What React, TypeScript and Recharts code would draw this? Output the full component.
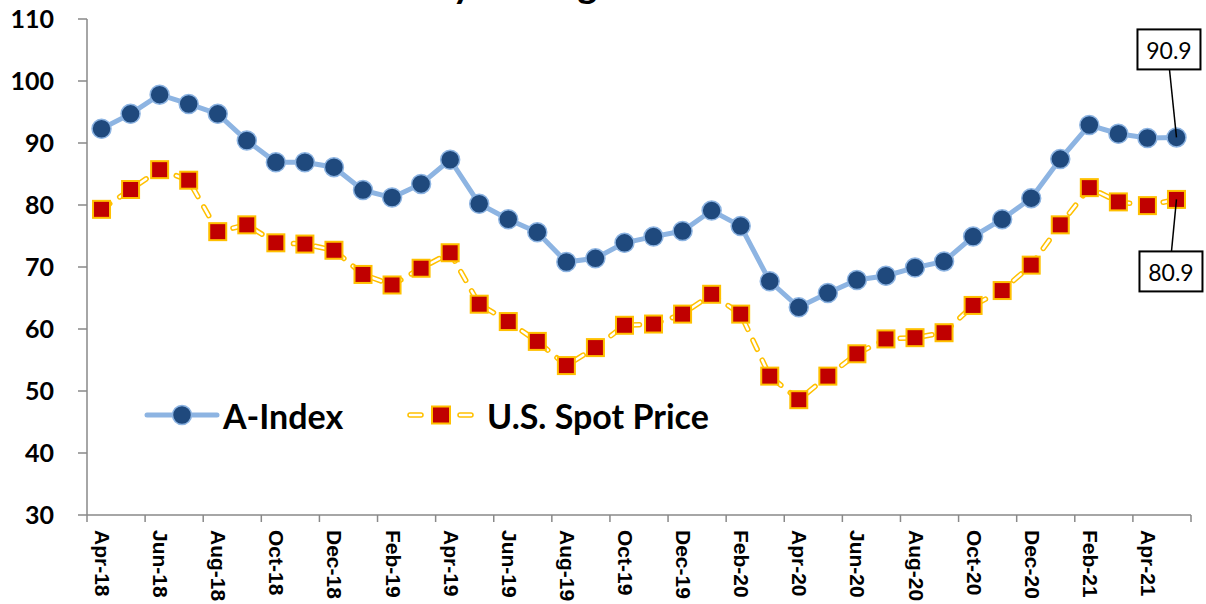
import { LineChart, Line, XAxis, YAxis, Legend } from "recharts";

const months = [
  "Apr-18", "May-18", "Jun-18", "Jul-18", "Aug-18", "Sep-18", "Oct-18", "Nov-18", "Dec-18", "Jan-19",
  "Feb-19", "Mar-19", "Apr-19", "May-19", "Jun-19", "Jul-19", "Aug-19", "Sep-19", "Oct-19", "Nov-19",
  "Dec-19", "Jan-20", "Feb-20", "Mar-20", "Apr-20", "May-20", "Jun-20", "Jul-20", "Aug-20", "Sep-20",
  "Oct-20", "Nov-20", "Dec-20", "Jan-21", "Feb-21", "Mar-21", "Apr-21", "May-21",
];

const aIndex = [
  92.3, 94.7, 97.8, 96.3, 94.7, 90.4, 86.9, 86.9, 86.1, 82.4,
  81.2, 83.4, 87.3, 80.2, 77.7, 75.6, 70.8, 71.4, 73.9, 74.9,
  75.8, 79.1, 76.6, 67.7, 63.5, 65.8, 67.9, 68.6, 69.9, 70.9,
  74.9, 77.7, 81.1, 87.4, 92.9, 91.5, 90.8, 90.9,
];

const spotPrice = [
  79.3, 82.5, 85.7, 84.0, 75.7, 76.8, 73.9, 73.7, 72.7, 68.8,
  67.1, 69.8, 72.3, 64.0, 61.2, 58.0, 54.1, 57.0, 60.6, 60.8,
  62.4, 65.6, 62.4, 52.4, 48.6, 52.4, 56.0, 58.4, 58.6, 59.4,
  63.8, 66.2, 70.3, 76.8, 82.8, 80.5, 79.9, 80.9,
];

const yTicks = [30, 40, 50, 60, 70, 80, 90, 100, 110];

const data = months.map((month, i) => ({
  month,
  aIndex: aIndex[i],
  spot: spotPrice[i],
}));

const WIDTH = 1206;
const HEIGHT = 604;
const Y_AXIS_W = 87;
const RIGHT = 15;
const PLOT_W = WIDTH - Y_AXIS_W - RIGHT;
const BAND = PLOT_W / months.length;
const LAST = months.length - 1;

const AXIS = "#898989";
const BLUE_LINE = "#8DB4E2";
const BLUE_DOT = "#1F497D";
const YELLOW = "#FFC000";
const RED = "#C00000";
const DASH = "10 12";

function MonthTick(props: any) {
  const { x, y, payload } = props;
  const i = months.indexOf(payload.value);
  const left = x - BAND / 2;
  return (
    <g>
      <line x1={left} x2={left} y1={y} y2={y + 7} stroke={AXIS} strokeWidth={1.5} />
      {i === LAST - 1 && (
        <line
          x1={x + BAND * 1.5}
          x2={x + BAND * 1.5}
          y1={y}
          y2={y + 7}
          stroke={AXIS}
          strokeWidth={1.5}
        />
      )}
      <text
        transform={`translate(${x + 1},${y + 15}) rotate(90)`}
        textAnchor="start"
        dominantBaseline="central"
        fontFamily="'Liberation Sans', Arial, sans-serif"
        fontWeight={700}
        fontSize={21}
        fill="#000"
      >
        {payload.value}
      </text>
    </g>
  );
}

function CircleDot(props: any) {
  const { cx, cy } = props;
  if (cx == null || cy == null) return null;
  return <circle cx={cx} cy={cy} r={9.5} fill={BLUE_DOT} stroke={BLUE_LINE} strokeWidth={1.5} />;
}

function SquareDot(props: any) {
  const { cx, cy } = props;
  if (cx == null || cy == null) return null;
  return (
    <rect x={cx - 8.5} y={cy - 8.5} width={17} height={17} fill={RED} stroke={YELLOW} strokeWidth={2} />
  );
}

function Callout({ bx, by, lx, ly, px, py, text }: any) {
  return (
    <g>
      <line x1={lx} y1={ly} x2={px} y2={py} stroke="#000" strokeWidth={1.5} />
      <rect x={bx} y={by} width={63} height={40} fill="#fff" stroke="#000" strokeWidth={2} />
      <text
        x={bx + 31.5}
        y={by + 21}
        textAnchor="middle"
        dominantBaseline="central"
        fontFamily="Lato, sans-serif"
        fontSize={23}
        fill="#000"
      >
        {text}
      </text>
    </g>
  );
}

function AIndexLabel(props: any) {
  const { x, y, index, value } = props;
  if (index !== LAST) return null;
  return <Callout bx={x - 39} by={y - 108} lx={x - 7} ly={y - 68} px={x} py={y} text={value.toFixed(1)} />;
}

function SpotLabel(props: any) {
  const { x, y, index, value } = props;
  if (index !== LAST) return null;
  return <Callout bx={x - 37} by={y + 52} lx={x - 5} ly={y + 52} px={x} py={y} text={value.toFixed(1)} />;
}

function ChartLegend() {
  const font = { fontFamily: "Lato, sans-serif", fontWeight: 700, fontSize: 34 };
  return (
    <svg width={600} height={44} style={{ display: "block" }}>
      <line x1={11} x2={81} y1={22} y2={22} stroke={BLUE_LINE} strokeWidth={5} strokeLinecap="round" />
      <circle cx={46} cy={22} r={9.5} fill={BLUE_DOT} stroke={BLUE_LINE} strokeWidth={1.5} />
      <text x={87} y={22} dominantBaseline="central" {...font}>
        A-Index
      </text>
      <line x1={274} x2={285} y1={22} y2={22} stroke={YELLOW} strokeWidth={5.5} strokeLinecap="round" />
      <line x1={274} x2={285} y1={22} y2={22} stroke="#fff" strokeWidth={2.5} strokeLinecap="round" />
      <line x1={324} x2={335} y1={22} y2={22} stroke={YELLOW} strokeWidth={5.5} strokeLinecap="round" />
      <line x1={324} x2={335} y1={22} y2={22} stroke="#fff" strokeWidth={2.5} strokeLinecap="round" />
      <rect x={296} y={13.5} width={18} height={17} fill={RED} stroke={YELLOW} strokeWidth={2} />
      <text x={351} y={22} dominantBaseline="central" {...font}>
        U.S. Spot Price
      </text>
    </svg>
  );
}

export default function App() {
  return (
    <div style={{ position: "absolute", left: 0, top: 0, width: WIDTH, height: HEIGHT, background: "#fff" }}>
      <svg width={WIDTH} height={20} style={{ position: "absolute", left: 0, top: 0 }}>
        <text x={329} y={-2} fontFamily="Lato, sans-serif" fontWeight={700} fontSize={38} fill="#000">
          Monthly Average Prices
        </text>
      </svg>
      <LineChart
        width={WIDTH}
        height={HEIGHT}
        data={data}
        margin={{ top: 19, right: RIGHT, bottom: 0, left: 0 }}
      >
        <XAxis
          dataKey="month"
          interval={1}
          padding={{ left: BAND / 2, right: BAND / 2 }}
          height={89}
          tickLine={false}
          tickSize={0}
          tickMargin={0}
          axisLine={{ stroke: AXIS, strokeWidth: 1.5 }}
          tick={<MonthTick />}
        />
        <YAxis
          domain={[30, 110]}
          ticks={yTicks}
          width={Y_AXIS_W}
          tickSize={9}
          tickMargin={24}
          axisLine={{ stroke: AXIS, strokeWidth: 1.5 }}
          tickLine={{ stroke: AXIS, strokeWidth: 1.5 }}
          tick={{ fill: "#000", fontSize: 25, fontWeight: 700, fontFamily: "Lato, sans-serif" }}
        />
        <Legend
          layout="vertical"
          verticalAlign="middle"
          align="center"
          wrapperStyle={{ position: "absolute", left: 136, top: 393, width: 600, height: 44 }}
          content={() => <ChartLegend />}
        />
        <Line
          type="linear"
          dataKey="aIndex"
          stroke={BLUE_LINE}
          strokeWidth={5}
          dot={<CircleDot />}
          activeDot={false}
          isAnimationActive={false}
          label={<AIndexLabel />}
        />
        <Line
          type="linear"
          dataKey="spot"
          stroke={YELLOW}
          strokeWidth={5.5}
          strokeDasharray={DASH}
          strokeLinecap="round"
          dot={false}
          activeDot={false}
          isAnimationActive={false}
          legendType="none"
        />
        <Line
          type="linear"
          dataKey="spot"
          stroke="#fff"
          strokeWidth={2.5}
          strokeDasharray={DASH}
          strokeLinecap="round"
          dot={<SquareDot />}
          activeDot={false}
          isAnimationActive={false}
          label={<SpotLabel />}
          legendType="none"
        />
      </LineChart>
    </div>
  );
}
